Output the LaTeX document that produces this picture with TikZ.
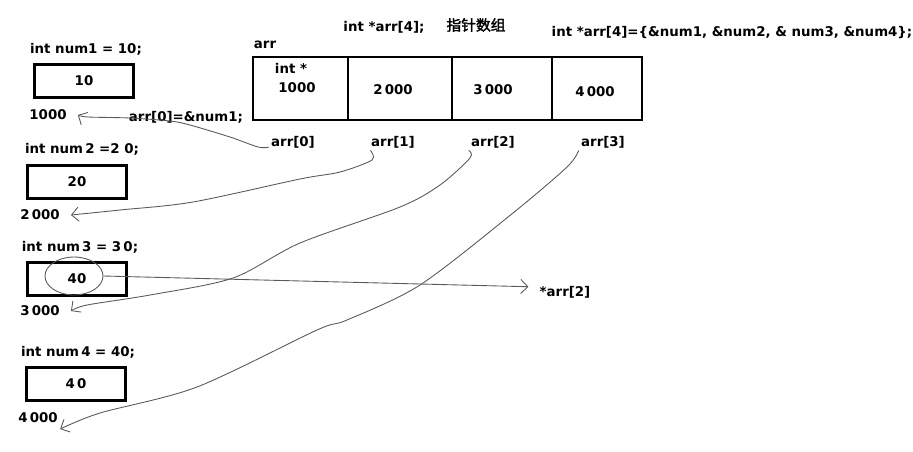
\documentclass[tikz,border=0pt]{standalone}
\usepackage{fontspec}
\setmainfont{DejaVu Sans}
\newfontfamily\cjk{Noto Sans CJK SC}[AutoFakeBold=2]
\usetikzlibrary{arrows.meta,shapes.geometric}

\begin{document}
\begin{tikzpicture}[x=0.02cm,y=-0.02cm,line width=0.8pt,>={Straight Barb[length=4pt,width=8pt]},
  font=\fontsize{7.6}{9}\selectfont\bfseries,
  every node/.style={inner sep=1pt},
  valbox/.style={draw,line width=1.7pt,minimum width=1.98cm,minimum height=0.66cm},
  pen/.style={->,line width=0.5pt,draw=black!65}]
\useasboundingbox (0,0) rectangle (913,451);
% ---- the four ints: declaration, value box, address ----
\node (d1) at (86,49) {int num1 = 10;};
\node[valbox] (v1) at (84,81) {10};
\node (a1) at (48,115) {1000};
\node (d2) at (82,149) {int num\,2 =2 0;};
\node[valbox] (v2) at (77,182) {20};
\node (a2) at (40,215) {2\,000};
\node (d3) at (80,247) {int num\,3 = 3\,0;};
\node[valbox] (v3) at (77,279) {40};
\node (a3) at (40,311) {3\,000};
\node (d4) at (78,352) {int num\,4 = 40;};
\node[valbox] (v4) at (76,384) {4\,0};
\node (a4) at (38,418) {4\,000};
% ---- the pointer array ----
\node (decl) at (384,27) {int *arr[4];};
\node (title) at (476,25) {\fontsize{8.4}{10}\selectfont\cjk 指针数组};
\node (init) at (732,33) {int *arr[4]=\{\&num1, \&num2, \& num3, \&num4\};};
\node (arr) at (265,45) {arr};
\draw[line width=1.3pt] (253,57) rectangle (642,120);
\foreach \x in {348,452,552}
  \draw[line width=1.3pt] (\x,57) -- (\x,120);
\node (type) at (291,68) {int *};
\node (c0) at (297,88) {1000};
\node (c1) at (393,90) {2\,000};
\node (c2) at (493,90) {3\,000};
\node (c3) at (595,92) {4\,000};
\foreach \i/\x in {0/293,1/393,2/493,3/603}
  \node (p\i) at (\x,142) {arr[\i]};
\node (set) at (186,117) {arr[0]=\&num1;};
\node (deref) at (565,292) {*arr[2]};
% ---- hand drawn links ----
\draw[pen] plot[smooth,tension=0.5] coordinates {([yshift=-3pt]p0.west) (258,147) (230,137)
  (190,125) (170,121) (130,118) (88,117) ([xshift=5pt]a1.east)};
\draw[pen] plot[smooth,tension=0.5] coordinates {([xshift=1pt]p1.south west) (372,160) (340,172)
  (300,179) (193,202) (120,210) ([xshift=5pt]a2.east)};
\draw[pen] plot[smooth,tension=0.5] coordinates {(p2.south west) (470,158) (440,185) (400,207)
  (300,243) (233,278) (150,295) (87,305) ([xshift=5pt]a3.east)};
\draw[pen] plot[smooth,tension=0.5] coordinates {(p3.south west) (567,167) (513,213) (420,285)
  (347,320) (317,330) (197,387) (100,413) ([yshift=-2pt]a4.south east)};
\node[ellipse,draw=black!65,line width=0.5pt,minimum width=1.16cm,minimum height=0.76cm,inner sep=0]
  (ring) at (74,276) {};
\draw[pen] (ring.east) -- ([xshift=-5pt,yshift=3pt]deref.west);
\end{tikzpicture}
\end{document}
